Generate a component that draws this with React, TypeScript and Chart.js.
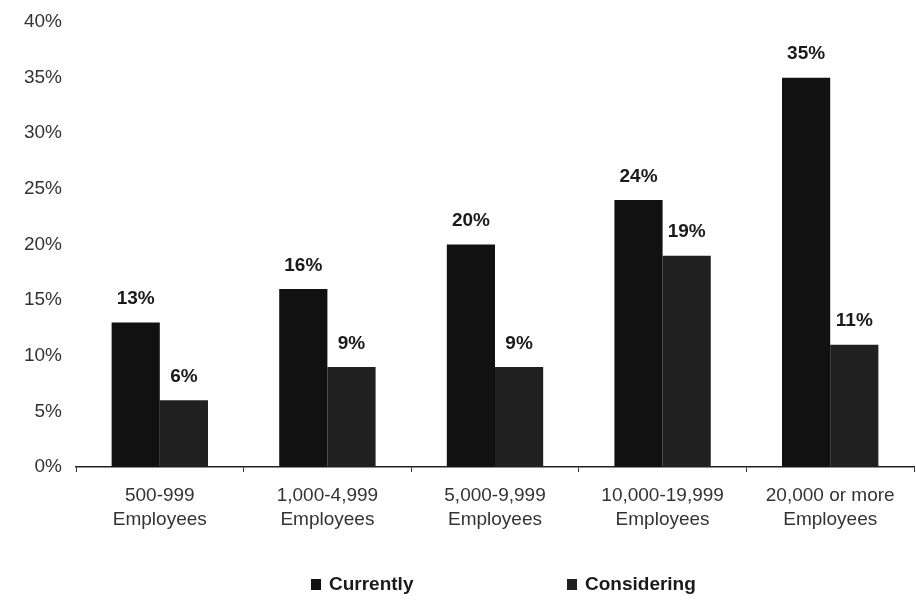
import React, { useEffect, useRef } from "react";
import { Chart, registerables } from "chart.js";

Chart.register(...registerables);

const categories: string[][] = [
  ["500-999", "Employees"],
  ["1,000-4,999", "Employees"],
  ["5,000-9,999", "Employees"],
  ["10,000-19,999", "Employees"],
  ["20,000 or more", "Employees"],
];
const currently: number[] = [13, 16, 20, 24, 35];
const considering: number[] = [6, 9, 9, 19, 11];
const seriesNames: string[] = ["Currently", "Considering"];
const seriesColors: string[] = ["#111111", "#202020"];

const FONT = "Arial, 'Liberation Sans', sans-serif";

const valueLabels = {
  id: "valueLabels",
  afterDatasetsDraw(chart: any) {
    const ctx = chart.ctx;
    ctx.save();
    ctx.font = "bold 19px " + FONT;
    ctx.fillStyle = "#1a1a1a";
    ctx.textAlign = "center";
    ctx.textBaseline = "bottom";
    chart.data.datasets.forEach((ds: any, i: number) => {
      const meta = chart.getDatasetMeta(i);
      meta.data.forEach((bar: any, j: number) => {
        ctx.fillText(ds.data[j] + "%", bar.x, bar.y - 14);
      });
    });
    ctx.restore();
  },
};

export default function App() {
  const ref = useRef<HTMLCanvasElement>(null);
  useEffect(() => {
    const chart = new Chart(ref.current!, {
      type: "bar",
      data: {
        labels: categories,
        datasets: [
          { label: seriesNames[0], data: currently, backgroundColor: seriesColors[0] },
          { label: seriesNames[1], data: considering, backgroundColor: seriesColors[1] },
        ],
      },
      options: {
        animation: false,
        responsive: false,
        layout: { padding: { top: 22, right: 2, left: 0, bottom: 0 } },
        datasets: { bar: { categoryPercentage: 0.575, barPercentage: 1 } },
        plugins: { legend: { display: false }, tooltip: { enabled: false } },
        scales: {
          x: {
            grid: {
              display: true,
              drawOnChartArea: false,
              drawTicks: true,
              tickLength: 5,
              color: "#333",
              offset: true,
            },
            border: { display: true, color: "#222", width: 1.5 },
            ticks: {
              color: "#333",
              font: { family: FONT, size: 19, lineHeight: 1.3 },
              padding: 11,
              maxRotation: 0,
              autoSkip: false,
            },
            afterFit(scale: any) {
              scale.height = 135;
            },
          },
          y: {
            min: 0,
            max: 40,
            grid: { display: false },
            border: { display: false },
            ticks: {
              stepSize: 5,
              color: "#333",
              padding: 6,
              font: { family: FONT, size: 19 },
              callback: (v: any) => v + "%",
            },
            afterFit(scale: any) {
              scale.width = 76;
            },
          },
        },
      },
      plugins: [valueLabels],
    });
    return () => chart.destroy();
  }, []);

  const legendFont = "bold 19px " + FONT;
  return (
    <div style={{ position: "fixed", left: 0, top: 0, width: 916, height: 602, background: "#fff" }}>
      <canvas ref={ref} width={916} height={602} style={{ display: "block" }} />
      {seriesNames.map((name, i) => (
        <div
          key={name}
          style={{
            position: "absolute",
            left: i === 0 ? 311 : 567,
            top: 573,
            display: "flex",
            alignItems: "center",
            font: legendFont,
            color: "#1a1a1a",
          }}
        >
          <span style={{ display: "inline-block", width: 10, height: 11, background: seriesColors[i], marginRight: 8 }} />
          {name}
        </div>
      ))}
    </div>
  );
}
